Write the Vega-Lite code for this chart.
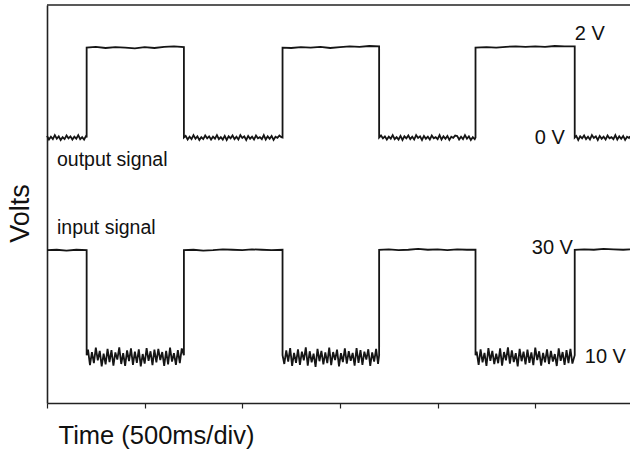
{
  "$schema": "https://vega.github.io/schema/vega-lite/v6.json",
  "width": 583,
  "height": 398,
  "autosize": {"type": "none"},
  "padding": {"left": 47, "top": 5, "right": 0, "bottom": 49},
  "background": "white",
  "config": {"view": {"stroke": null}, "font": "Liberation Sans"},
  "datasets": {
    "sig": [
      {"s":"o","t":0.00,"v":67.1},{"s":"o","t":0.02,"v":66.2},{"s":"o","t":0.04,"v":66.9},{"s":"o","t":0.06,"v":66.3},{"s":"o","t":0.08,"v":67.3},{"s":"o","t":0.10,"v":66.4},{"s":"o","t":0.12,"v":67.0},{"s":"o","t":0.14,"v":66.1},{"s":"o","t":0.16,"v":66.8},{"s":"o","t":0.18,"v":66.3},{"s":"o","t":0.20,"v":67.2},{"s":"o","t":0.22,"v":66.5},{"s":"o","t":0.24,"v":67.0},{"s":"o","t":0.26,"v":66.2},{"s":"o","t":0.28,"v":66.9},{"s":"o","t":0.30,"v":66.4},{"s":"o","t":0.32,"v":67.3},{"s":"o","t":0.34,"v":66.3},{"s":"o","t":0.36,"v":66.8},{"s":"o","t":0.38,"v":66.2},{"s":"o","t":0.40,"v":67.1},
      {"s":"o","t":0.406,"v":66.7},{"s":"o","t":0.406,"v":89.3},
      {"s":"o","t":0.50,"v":89.5},{"s":"o","t":0.60,"v":89.2},{"s":"o","t":0.70,"v":89.4},{"s":"o","t":0.80,"v":89.3},{"s":"o","t":0.90,"v":89.1},{"s":"o","t":1.00,"v":89.4},{"s":"o","t":1.10,"v":89.2},{"s":"o","t":1.20,"v":89.5},{"s":"o","t":1.30,"v":89.6},{"s":"o","t":1.402,"v":89.4},
      {"s":"o","t":1.402,"v":66.7},
      {"s":"o","t":1.42,"v":67.1},{"s":"o","t":1.44,"v":66.2},{"s":"o","t":1.46,"v":66.9},{"s":"o","t":1.48,"v":66.3},{"s":"o","t":1.50,"v":67.3},{"s":"o","t":1.52,"v":66.4},{"s":"o","t":1.54,"v":67.0},{"s":"o","t":1.56,"v":66.1},{"s":"o","t":1.58,"v":66.8},{"s":"o","t":1.60,"v":66.3},{"s":"o","t":1.62,"v":67.2},{"s":"o","t":1.64,"v":66.5},{"s":"o","t":1.66,"v":67.0},{"s":"o","t":1.68,"v":66.2},{"s":"o","t":1.70,"v":66.9},{"s":"o","t":1.72,"v":66.4},{"s":"o","t":1.74,"v":67.3},{"s":"o","t":1.76,"v":66.3},{"s":"o","t":1.78,"v":66.8},{"s":"o","t":1.80,"v":66.2},{"s":"o","t":1.82,"v":67.1},{"s":"o","t":1.84,"v":66.1},{"s":"o","t":1.86,"v":67.0},{"s":"o","t":1.88,"v":66.5},{"s":"o","t":1.90,"v":67.2},{"s":"o","t":1.92,"v":66.3},{"s":"o","t":1.94,"v":66.9},{"s":"o","t":1.96,"v":66.2},{"s":"o","t":1.98,"v":67.3},{"s":"o","t":2.00,"v":66.6},{"s":"o","t":2.02,"v":67.0},{"s":"o","t":2.04,"v":66.1},{"s":"o","t":2.06,"v":67.1},{"s":"o","t":2.08,"v":66.4},{"s":"o","t":2.10,"v":66.9},{"s":"o","t":2.12,"v":66.2},{"s":"o","t":2.14,"v":67.2},{"s":"o","t":2.16,"v":66.5},{"s":"o","t":2.18,"v":66.8},{"s":"o","t":2.20,"v":66.3},{"s":"o","t":2.22,"v":67.3},{"s":"o","t":2.24,"v":66.2},{"s":"o","t":2.26,"v":67.0},{"s":"o","t":2.28,"v":66.4},{"s":"o","t":2.30,"v":67.1},{"s":"o","t":2.32,"v":66.1},{"s":"o","t":2.34,"v":66.9},{"s":"o","t":2.36,"v":66.6},{"s":"o","t":2.38,"v":67.2},{"s":"o","t":2.40,"v":66.8},
      {"s":"o","t":2.412,"v":66.7},{"s":"o","t":2.412,"v":89.3},
      {"s":"o","t":2.50,"v":89.2},{"s":"o","t":2.60,"v":89.4},{"s":"o","t":2.70,"v":89.3},{"s":"o","t":2.80,"v":89.5},{"s":"o","t":2.90,"v":89.2},{"s":"o","t":3.00,"v":89.4},{"s":"o","t":3.10,"v":89.6},{"s":"o","t":3.20,"v":89.5},{"s":"o","t":3.30,"v":89.7},{"s":"o","t":3.401,"v":89.6},
      {"s":"o","t":3.401,"v":66.7},
      {"s":"o","t":3.42,"v":67.2},{"s":"o","t":3.44,"v":66.5},{"s":"o","t":3.46,"v":67.0},{"s":"o","t":3.48,"v":66.2},{"s":"o","t":3.50,"v":66.9},{"s":"o","t":3.52,"v":66.4},{"s":"o","t":3.54,"v":67.3},{"s":"o","t":3.56,"v":66.3},{"s":"o","t":3.58,"v":66.8},{"s":"o","t":3.60,"v":66.2},{"s":"o","t":3.62,"v":67.1},{"s":"o","t":3.64,"v":66.1},{"s":"o","t":3.66,"v":67.0},{"s":"o","t":3.68,"v":66.5},{"s":"o","t":3.70,"v":67.2},{"s":"o","t":3.72,"v":66.3},{"s":"o","t":3.74,"v":66.9},{"s":"o","t":3.76,"v":66.2},{"s":"o","t":3.78,"v":67.3},{"s":"o","t":3.80,"v":66.6},{"s":"o","t":3.82,"v":67.0},{"s":"o","t":3.84,"v":66.1},{"s":"o","t":3.86,"v":67.1},{"s":"o","t":3.88,"v":66.4},{"s":"o","t":3.90,"v":66.9},{"s":"o","t":3.92,"v":66.2},{"s":"o","t":3.94,"v":67.2},{"s":"o","t":3.96,"v":66.5},{"s":"o","t":3.98,"v":66.8},{"s":"o","t":4.00,"v":66.3},{"s":"o","t":4.02,"v":67.3},{"s":"o","t":4.04,"v":66.2},{"s":"o","t":4.06,"v":67.0},{"s":"o","t":4.08,"v":66.4},{"s":"o","t":4.10,"v":67.1},{"s":"o","t":4.12,"v":66.1},{"s":"o","t":4.14,"v":66.9},{"s":"o","t":4.16,"v":66.6},{"s":"o","t":4.18,"v":67.2},{"s":"o","t":4.20,"v":67.1},{"s":"o","t":4.22,"v":66.2},{"s":"o","t":4.24,"v":66.9},{"s":"o","t":4.26,"v":66.3},{"s":"o","t":4.28,"v":67.3},{"s":"o","t":4.30,"v":66.4},{"s":"o","t":4.32,"v":67.0},{"s":"o","t":4.34,"v":66.1},{"s":"o","t":4.36,"v":66.8},{"s":"o","t":4.38,"v":66.3},
      {"s":"o","t":4.388,"v":66.7},{"s":"o","t":4.388,"v":89.3},
      {"s":"o","t":4.50,"v":89.4},{"s":"o","t":4.60,"v":89.3},{"s":"o","t":4.70,"v":89.5},{"s":"o","t":4.80,"v":89.6},{"s":"o","t":4.90,"v":89.5},{"s":"o","t":5.00,"v":89.6},{"s":"o","t":5.10,"v":89.5},{"s":"o","t":5.20,"v":89.7},{"s":"o","t":5.30,"v":89.6},{"s":"o","t":5.404,"v":89.6},
      {"s":"o","t":5.404,"v":66.7},
      {"s":"o","t":5.42,"v":67.1},{"s":"o","t":5.44,"v":66.1},{"s":"o","t":5.46,"v":67.0},{"s":"o","t":5.48,"v":66.5},{"s":"o","t":5.50,"v":67.2},{"s":"o","t":5.52,"v":66.3},{"s":"o","t":5.54,"v":66.9},{"s":"o","t":5.56,"v":66.2},{"s":"o","t":5.58,"v":67.3},{"s":"o","t":5.60,"v":66.6},{"s":"o","t":5.62,"v":67.0},{"s":"o","t":5.64,"v":66.1},{"s":"o","t":5.66,"v":67.1},{"s":"o","t":5.68,"v":66.4},{"s":"o","t":5.70,"v":66.9},{"s":"o","t":5.72,"v":66.2},{"s":"o","t":5.74,"v":67.2},{"s":"o","t":5.76,"v":66.5},{"s":"o","t":5.78,"v":66.8},{"s":"o","t":5.80,"v":66.3},{"s":"o","t":5.82,"v":67.3},{"s":"o","t":5.84,"v":66.2},{"s":"o","t":5.86,"v":67.0},{"s":"o","t":5.88,"v":66.4},{"s":"o","t":5.90,"v":67.1},{"s":"o","t":5.92,"v":66.1},{"s":"o","t":5.94,"v":66.9},{"s":"o","t":5.96,"v":66.6},{"s":"o","t":5.97,"v":67.0},

      {"s":"i","t":0.00,"v":38.4},{"s":"i","t":0.10,"v":38.5},{"s":"i","t":0.20,"v":38.3},{"s":"i","t":0.30,"v":38.5},{"s":"i","t":0.406,"v":38.4},
      {"s":"i","t":0.406,"v":12.0},
      {"s":"i","t":0.42,"v":13.4},{"s":"i","t":0.44,"v":9.5},{"s":"i","t":0.46,"v":12.8},{"s":"i","t":0.48,"v":10.0},{"s":"i","t":0.50,"v":13.9},{"s":"i","t":0.52,"v":10.7},{"s":"i","t":0.54,"v":13.1},{"s":"i","t":0.56,"v":9.2},{"s":"i","t":0.58,"v":12.4},{"s":"i","t":0.60,"v":9.7},{"s":"i","t":0.62,"v":13.6},{"s":"i","t":0.64,"v":10.3},{"s":"i","t":0.66,"v":13.3},{"s":"i","t":0.68,"v":9.4},{"s":"i","t":0.70,"v":12.7},{"s":"i","t":0.72,"v":10.9},{"s":"i","t":0.74,"v":14.0},{"s":"i","t":0.76,"v":9.8},{"s":"i","t":0.78,"v":12.5},{"s":"i","t":0.80,"v":9.3},{"s":"i","t":0.82,"v":13.2},{"s":"i","t":0.84,"v":10.5},{"s":"i","t":0.86,"v":13.7},{"s":"i","t":0.88,"v":9.6},{"s":"i","t":0.90,"v":12.9},{"s":"i","t":0.92,"v":10.1},{"s":"i","t":0.94,"v":13.5},{"s":"i","t":0.96,"v":9.2},{"s":"i","t":0.98,"v":12.3},{"s":"i","t":1.00,"v":9.9},{"s":"i","t":1.02,"v":13.8},{"s":"i","t":1.04,"v":10.6},{"s":"i","t":1.06,"v":13.0},{"s":"i","t":1.08,"v":9.5},{"s":"i","t":1.10,"v":13.4},{"s":"i","t":1.12,"v":10.2},{"s":"i","t":1.14,"v":13.6},{"s":"i","t":1.16,"v":10.8},{"s":"i","t":1.18,"v":12.8},{"s":"i","t":1.20,"v":9.3},{"s":"i","t":1.22,"v":13.1},{"s":"i","t":1.24,"v":9.7},{"s":"i","t":1.26,"v":13.9},{"s":"i","t":1.28,"v":10.4},{"s":"i","t":1.30,"v":12.5},{"s":"i","t":1.32,"v":9.6},{"s":"i","t":1.34,"v":13.3},{"s":"i","t":1.36,"v":10.0},{"s":"i","t":1.38,"v":13.7},
      {"s":"i","t":1.402,"v":12.0},{"s":"i","t":1.402,"v":38.4},
      {"s":"i","t":1.50,"v":38.5},{"s":"i","t":1.60,"v":38.3},{"s":"i","t":1.70,"v":38.4},{"s":"i","t":1.80,"v":38.6},{"s":"i","t":1.90,"v":38.5},{"s":"i","t":2.00,"v":38.4},{"s":"i","t":2.10,"v":38.6},{"s":"i","t":2.20,"v":38.5},{"s":"i","t":2.30,"v":38.4},{"s":"i","t":2.412,"v":38.5},
      {"s":"i","t":2.412,"v":12.0},
      {"s":"i","t":2.43,"v":9.8},{"s":"i","t":2.45,"v":13.2},{"s":"i","t":2.47,"v":10.4},{"s":"i","t":2.49,"v":13.8},{"s":"i","t":2.51,"v":9.3},{"s":"i","t":2.53,"v":12.6},{"s":"i","t":2.55,"v":10.1},{"s":"i","t":2.57,"v":13.5},{"s":"i","t":2.59,"v":9.6},{"s":"i","t":2.61,"v":12.9},{"s":"i","t":2.63,"v":10.7},{"s":"i","t":2.65,"v":14.0},{"s":"i","t":2.67,"v":9.4},{"s":"i","t":2.69,"v":13.0},{"s":"i","t":2.71,"v":10.2},{"s":"i","t":2.73,"v":12.4},{"s":"i","t":2.75,"v":9.1},{"s":"i","t":2.77,"v":13.6},{"s":"i","t":2.79,"v":10.5},{"s":"i","t":2.81,"v":13.1},{"s":"i","t":2.83,"v":9.7},{"s":"i","t":2.85,"v":12.7},{"s":"i","t":2.87,"v":10.0},{"s":"i","t":2.89,"v":13.9},{"s":"i","t":2.91,"v":9.5},{"s":"i","t":2.93,"v":12.8},{"s":"i","t":2.95,"v":10.8},{"s":"i","t":2.97,"v":13.4},{"s":"i","t":2.99,"v":9.2},{"s":"i","t":3.01,"v":12.5},{"s":"i","t":3.03,"v":10.3},{"s":"i","t":3.05,"v":13.7},{"s":"i","t":3.07,"v":9.9},{"s":"i","t":3.09,"v":13.0},{"s":"i","t":3.11,"v":10.6},{"s":"i","t":3.13,"v":12.6},{"s":"i","t":3.15,"v":9.4},{"s":"i","t":3.17,"v":13.8},{"s":"i","t":3.19,"v":10.1},{"s":"i","t":3.21,"v":13.3},{"s":"i","t":3.23,"v":9.6},{"s":"i","t":3.25,"v":12.9},{"s":"i","t":3.27,"v":10.9},{"s":"i","t":3.29,"v":13.5},{"s":"i","t":3.31,"v":9.3},{"s":"i","t":3.33,"v":12.7},{"s":"i","t":3.35,"v":10.4},{"s":"i","t":3.37,"v":13.6},{"s":"i","t":3.39,"v":9.8},
      {"s":"i","t":3.401,"v":12.0},{"s":"i","t":3.401,"v":38.5},
      {"s":"i","t":3.50,"v":38.6},{"s":"i","t":3.60,"v":38.4},{"s":"i","t":3.70,"v":38.5},{"s":"i","t":3.80,"v":38.7},{"s":"i","t":3.90,"v":38.5},{"s":"i","t":4.00,"v":38.6},{"s":"i","t":4.10,"v":38.4},{"s":"i","t":4.20,"v":38.6},{"s":"i","t":4.30,"v":38.5},{"s":"i","t":4.388,"v":38.5},
      {"s":"i","t":4.388,"v":12.0},
      {"s":"i","t":4.40,"v":12.9},{"s":"i","t":4.42,"v":9.6},{"s":"i","t":4.44,"v":13.5},{"s":"i","t":4.46,"v":10.2},{"s":"i","t":4.48,"v":12.6},{"s":"i","t":4.50,"v":9.3},{"s":"i","t":4.52,"v":13.8},{"s":"i","t":4.54,"v":10.6},{"s":"i","t":4.56,"v":13.1},{"s":"i","t":4.58,"v":9.8},{"s":"i","t":4.60,"v":12.4},{"s":"i","t":4.62,"v":10.0},{"s":"i","t":4.64,"v":13.7},{"s":"i","t":4.66,"v":9.4},{"s":"i","t":4.68,"v":12.8},{"s":"i","t":4.70,"v":10.7},{"s":"i","t":4.72,"v":14.0},{"s":"i","t":4.74,"v":9.9},{"s":"i","t":4.76,"v":13.2},{"s":"i","t":4.78,"v":10.3},{"s":"i","t":4.80,"v":12.5},{"s":"i","t":4.82,"v":9.2},{"s":"i","t":4.84,"v":13.6},{"s":"i","t":4.86,"v":10.5},{"s":"i","t":4.88,"v":12.9},{"s":"i","t":4.90,"v":9.7},{"s":"i","t":4.92,"v":13.4},{"s":"i","t":4.94,"v":10.1},{"s":"i","t":4.96,"v":12.7},{"s":"i","t":4.98,"v":9.5},{"s":"i","t":5.00,"v":13.9},{"s":"i","t":5.02,"v":10.8},{"s":"i","t":5.04,"v":13.0},{"s":"i","t":5.06,"v":9.4},{"s":"i","t":5.08,"v":12.6},{"s":"i","t":5.10,"v":10.2},{"s":"i","t":5.12,"v":13.5},{"s":"i","t":5.14,"v":9.8},{"s":"i","t":5.16,"v":13.1},{"s":"i","t":5.18,"v":10.4},{"s":"i","t":5.20,"v":12.3},{"s":"i","t":5.22,"v":9.3},{"s":"i","t":5.24,"v":13.7},{"s":"i","t":5.26,"v":10.6},{"s":"i","t":5.28,"v":12.8},{"s":"i","t":5.30,"v":9.6},{"s":"i","t":5.32,"v":13.3},{"s":"i","t":5.34,"v":10.0},{"s":"i","t":5.36,"v":13.6},{"s":"i","t":5.38,"v":9.9},
      {"s":"i","t":5.404,"v":12.0},{"s":"i","t":5.404,"v":38.5},
      {"s":"i","t":5.50,"v":38.6},{"s":"i","t":5.60,"v":38.5},{"s":"i","t":5.70,"v":38.7},{"s":"i","t":5.80,"v":38.6},{"s":"i","t":5.90,"v":38.5},{"s":"i","t":5.97,"v":38.6}
    ],
    "lab": [
      {"label": "output signal", "t": 0.102, "v": 59.5, "k": "name"},
      {"label": "input signal", "t": 0.102, "v": 42.5, "k": "name"},
      {"label": "2 V", "t": 5.404, "v": 91.2, "k": "volt"},
      {"label": "0 V", "t": 4.995, "v": 65.1, "k": "volt"},
      {"label": "30 V", "t": 4.964, "v": 37.4, "k": "volt"},
      {"label": "10 V", "t": 5.507, "v": 10.05, "k": "volt"}
    ],
    "frame": [{"v": 100}]
  },
  "layer": [
    {
      "data": {"name": "frame"},
      "mark": {"type": "rule", "color": "#222222", "strokeWidth": 1.6},
      "encoding": {"y": {"field": "v", "type": "quantitative", "scale": {"domain": [0, 100], "nice": false}}}
    },
    {
      "data": {"name": "sig"},
      "mark": {"type": "line", "color": "#151515", "strokeWidth": 1.8, "strokeJoin": "miter"},
      "encoding": {
        "x": {
          "field": "t", "type": "quantitative",
          "scale": {"domain": [0, 5.97], "nice": false, "zero": false},
          "axis": {
            "values": [0, 1, 2, 3, 4, 5], "labels": false, "grid": false,
            "tickSize": 5, "tickColor": "#222222", "tickWidth": 1.2,
            "domainColor": "#222222", "domainWidth": 1.6,
            "title": "Time (500ms/div)", "titleFont": "Liberation Sans", "titleFontSize": 25.5,
            "titleFontWeight": "normal", "titleColor": "#111111",
            "titleAnchor": "start", "titleAlign": "left", "titleX": 11, "titleY": 40,
            "titleBaseline": "alphabetic"
          }
        },
        "y": {
          "field": "v", "type": "quantitative",
          "scale": {"domain": [0, 100], "nice": false},
          "axis": {
            "labels": false, "ticks": false, "grid": false,
            "domainColor": "#222222", "domainWidth": 1.6,
            "title": "Volts", "titleFont": "Liberation Sans", "titleFontSize": 27,
            "titleFontWeight": "normal", "titleColor": "#111111",
            "titleAngle": 270, "titleX": -27, "titleY": 208,
            "titleAlign": "center", "titleBaseline": "middle"
          }
        },
        "detail": {"field": "s"},
        "order": {"value": null}
      }
    },
    {
      "data": {"name": "lab"},
      "transform": [{"filter": "datum.k == 'name'"}],
      "mark": {"type": "text", "align": "left", "baseline": "alphabetic", "font": "Liberation Sans", "fontSize": 19.5, "color": "#111111"},
      "encoding": {
        "x": {"field": "t", "type": "quantitative"},
        "y": {"field": "v", "type": "quantitative"},
        "text": {"field": "label"}
      }
    },
    {
      "data": {"name": "lab"},
      "transform": [{"filter": "datum.k == 'volt'"}],
      "mark": {"type": "text", "align": "left", "baseline": "alphabetic", "font": "Liberation Sans", "fontSize": 20, "color": "#111111"},
      "encoding": {
        "x": {"field": "t", "type": "quantitative"},
        "y": {"field": "v", "type": "quantitative"},
        "text": {"field": "label"}
      }
    }
  ]
}
